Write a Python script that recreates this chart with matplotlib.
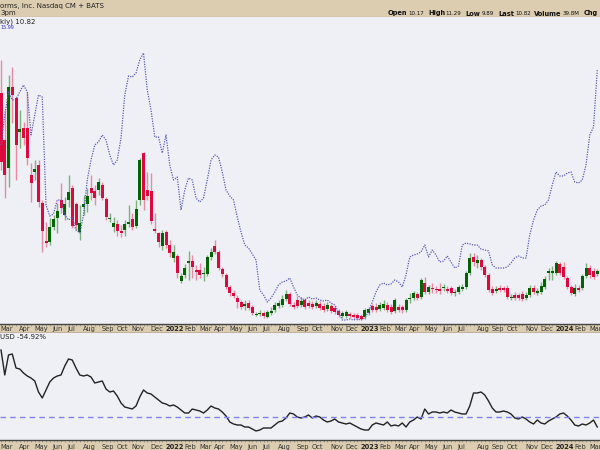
import matplotlib
matplotlib.use("Agg")
import matplotlib.pyplot as plt
import numpy as np
import pandas as pd

# weekly candles, price in $
opens = [46.4, 37.0, 31.4, 47.6, 45.4, 38.6, 39.4, 39.4, 30.0, 30.6,
         32.0, 24.4, 16.8, 16.6, 19.6, 21.4, 25.0, 22.0, 25.0, 27.4,
         24.2, 18.6, 23.6, 24.2, 27.4, 26.8, 27.0, 28.0, 25.2, 21.2,
         19.6, 20.2, 18.8, 19.0, 20.2, 21.2, 19.8, 25.0, 34.4, 27.0,
         26.8, 19.2, 18.4, 15.8, 18.6, 16.0, 13.4, 13.8, 8.8, 10.0,
         12.4, 12.8, 11.0, 11.0, 10.2, 10.2, 13.6, 15.8, 14.6, 11.2,
         10.0, 7.6, 6.4, 5.4, 4.6, 3.8, 4.4, 3.6, 2.0, 2.2,
         2.4, 1.6, 2.4, 3.0, 3.8, 4.0, 5.2, 6.2, 4.0, 5.0,
         4.0, 5.0, 4.4, 4.2, 3.8, 4.2, 3.8, 3.2, 3.8, 3.4,
         2.8, 1.8, 1.8, 2.2, 2.0, 2.0, 1.8, 1.6, 2.4, 3.8,
         3.6, 3.2, 3.4, 4.0, 3.6, 2.8, 3.6, 3.6, 3.0, 5.2,
         5.4, 6.2, 5.6, 8.4, 6.6, 7.4, 7.2, 7.2, 7.4, 7.2,
         7.4, 6.4, 6.6, 7.2, 7.6, 10.4, 13.6, 12.4, 13.0, 11.6,
         10.0, 7.2, 6.8, 7.4, 7.4, 7.4, 5.4, 6.0, 6.0, 6.2,
         5.4, 6.0, 7.4, 6.4, 6.6, 7.6, 10.4, 10.4, 10.4, 12.2,
         11.6, 9.4, 7.6, 6.2, 7.4, 7.4, 9.8, 11.4, 10.8, 10.17]
closes = [32.6, 30.0, 47.6, 46.0, 36.0, 39.2, 37.4, 33.4, 28.4, 31.2,
          24.6, 18.8, 16.4, 19.6, 21.2, 22.8, 23.4, 24.2, 26.6, 19.8,
          20.0, 20.4, 24.2, 25.8, 26.4, 25.4, 28.6, 25.4, 21.6, 21.4,
          20.4, 18.8, 18.4, 20.2, 20.6, 19.6, 23.2, 33.0, 25.0, 25.8,
          20.8, 18.8, 16.6, 18.4, 16.0, 14.4, 14.6, 10.4, 9.8, 11.4,
          12.8, 11.6, 10.6, 10.0, 10.4, 13.6, 14.6, 14.6, 11.4, 10.2,
          7.6, 6.4, 5.8, 4.6, 3.6, 4.2, 3.4, 2.4, 2.2, 2.4,
          1.8, 2.6, 2.8, 4.0, 4.4, 5.2, 6.2, 4.2, 3.6, 3.8,
          4.8, 3.6, 3.8, 3.6, 4.4, 3.4, 3.0, 4.0, 2.8, 2.6,
          2.0, 2.4, 2.6, 1.8, 1.6, 1.4, 1.2, 3.0, 3.2, 3.0,
          3.0, 4.0, 4.2, 3.0, 2.6, 5.0, 3.0, 3.0, 5.0, 5.4,
          6.4, 5.4, 9.0, 6.6, 7.6, 7.2, 7.0, 6.8, 7.6, 6.8,
          6.4, 6.6, 7.6, 7.6, 10.4, 13.4, 12.6, 13.0, 11.6, 10.0,
          7.0, 6.4, 7.2, 7.0, 7.0, 5.6, 5.6, 5.4, 5.4, 5.2,
          6.0, 7.4, 6.6, 6.8, 7.8, 9.2, 10.8, 10.8, 12.4, 10.4,
          9.6, 7.6, 6.4, 7.4, 7.0, 9.8, 11.4, 10.0, 9.6, 10.82]
highs = [53.0, 43.0, 50.0, 51.6, 45.6, 43.0, 40.6, 46.6, 32.4, 33.0,
         33.0, 25.0, 20.6, 21.4, 22.0, 24.4, 28.4, 25.6, 30.0, 28.0,
         24.6, 24.0, 26.0, 27.4, 30.0, 28.0, 29.4, 28.6, 25.6, 22.4,
         21.6, 21.0, 20.0, 21.0, 24.0, 22.4, 25.0, 33.4, 34.6, 30.6,
         30.4, 22.4, 18.6, 19.0, 19.0, 17.0, 16.0, 14.2, 10.4, 12.2,
         14.8, 14.0, 12.0, 12.4, 11.6, 14.0, 15.4, 17.0, 15.0, 11.6,
         10.4, 8.0, 7.0, 6.0, 5.0, 5.0, 5.0, 4.0, 2.6, 3.0,
         2.8, 3.0, 3.6, 4.6, 5.0, 6.0, 7.0, 6.6, 4.6, 5.8,
         5.6, 5.4, 5.0, 4.8, 5.0, 4.8, 4.4, 4.6, 4.2, 3.8,
         3.2, 2.8, 3.0, 2.6, 2.4, 2.4, 2.2, 3.4, 3.6, 4.2,
         4.4, 4.6, 5.0, 4.6, 4.2, 5.4, 4.2, 4.0, 5.4, 6.4,
         6.8, 6.6, 9.4, 9.6, 8.0, 8.4, 7.8, 8.4, 8.2, 7.8,
         7.8, 7.2, 8.0, 8.2, 10.8, 14.4, 14.4, 14.0, 13.4, 12.0,
         10.4, 7.8, 7.8, 8.0, 7.8, 8.0, 6.2, 6.6, 6.4, 6.8,
         6.6, 8.0, 8.0, 7.4, 8.6, 9.8, 11.4, 11.8, 12.8, 12.6,
         12.6, 9.8, 8.0, 8.2, 8.0, 10.2, 12.4, 12.0, 11.4, 11.29]
lows = [31.0, 25.4, 27.6, 40.4, 29.0, 35.4, 36.0, 32.0, 24.6, 29.0,
        23.6, 14.6, 15.6, 16.0, 19.0, 18.4, 22.4, 21.0, 23.6, 19.4,
        19.0, 17.0, 22.0, 22.6, 25.0, 24.0, 26.0, 25.0, 21.0, 20.6,
        18.6, 17.8, 17.6, 17.8, 19.6, 19.0, 19.4, 24.0, 23.0, 25.0,
        20.2, 18.4, 15.6, 15.0, 15.4, 13.6, 12.6, 9.4, 8.4, 9.4,
        9.0, 9.4, 9.0, 9.4, 8.8, 9.8, 13.0, 14.2, 11.0, 9.6,
        7.2, 5.8, 5.4, 3.4, 3.2, 3.0, 3.0, 2.0, 1.8, 1.8,
        1.4, 1.4, 2.0, 2.6, 3.4, 3.6, 4.8, 3.8, 3.2, 3.4,
        3.6, 3.2, 3.4, 3.2, 3.4, 3.0, 2.6, 2.8, 2.4, 2.2,
        1.6, 1.4, 1.4, 1.4, 1.2, 1.0, 1.0, 1.2, 2.0, 2.6,
        2.6, 2.8, 3.0, 2.6, 2.2, 2.4, 2.6, 2.4, 2.6, 4.4,
        5.0, 5.0, 5.2, 6.2, 6.2, 6.4, 6.4, 6.2, 6.8, 6.4,
        6.0, 5.8, 6.2, 6.8, 7.2, 10.0, 11.8, 11.4, 11.0, 9.6,
        6.6, 6.0, 6.4, 6.6, 6.6, 5.2, 5.0, 5.0, 5.0, 4.8,
        5.0, 5.6, 6.2, 6.0, 6.2, 7.2, 9.0, 9.0, 10.0, 10.0,
        9.2, 7.2, 6.0, 5.8, 6.6, 7.0, 9.4, 9.4, 9.2, 9.89]

# comparison line (dotted), same week index
relative = [36.0, 42.0, 46.6, 45.0, 45.2, 46.6, 48.0, 46.6, 38.0, 42.0,
            46.0, 45.6, 24.0, 21.8, 22.2, 25.0, 25.0, 22.0, 21.0, 21.6,
            19.0, 18.4, 22.0, 29.0, 33.0, 36.0, 36.6, 38.0, 37.0, 34.0,
            32.0, 33.0, 37.4, 46.0, 49.8, 49.6, 50.4, 53.0, 54.4, 47.0,
            43.0, 37.6, 37.6, 34.4, 38.0, 32.0, 29.0, 29.6, 23.0, 27.0,
            29.4, 29.0, 25.4, 24.6, 25.4, 29.0, 33.0, 34.0, 33.6, 30.6,
            27.0, 25.8, 25.0, 21.6, 18.6, 16.0, 15.4, 14.2, 13.0, 7.0,
            6.0, 4.6, 5.4, 6.6, 8.0, 8.6, 8.8, 9.4, 7.6, 6.0,
            5.4, 5.0, 5.6, 5.2, 5.4, 5.0, 4.8, 5.0, 4.4, 4.0,
            2.6, 1.0, 1.0, 1.2, 1.0, 1.2, 1.0, 1.4, 2.6, 4.6,
            6.6, 8.0, 8.4, 8.0, 8.2, 9.0, 8.6, 7.6, 10.0, 13.6,
            14.0, 14.2, 14.6, 16.0, 13.6, 15.0, 14.0, 12.6, 12.8, 13.8,
            12.6, 11.4, 11.8, 16.0, 16.4, 16.2, 16.0, 16.0, 15.2, 15.0,
            14.8, 12.0, 11.4, 11.4, 11.4, 11.6, 12.4, 13.4, 13.8, 13.4,
            13.4, 18.0, 21.0, 23.0, 23.8, 24.0, 25.0, 28.0, 30.6, 29.8,
            29.8, 30.4, 30.6, 28.6, 28.4, 29.0, 32.0, 38.0, 39.6, 51.0]

# lower panel: % change
perf = [368.5, 231, 341, 346.5, 269.5, 264, 242, 225.5, 214.5, 198,
        137.5, 104.5, 148.5, 192.5, 214.5, 225.5, 231, 280.5, 319, 313.5,
        269.5, 231, 225.5, 231, 220, 187, 192.5, 198, 154, 137.5,
        143, 115.5, 77, 55, 49.5, 44, 60.5, 110, 148.5, 132,
        126.5, 110, 93.5, 77, 71.5, 60.5, 66, 55, 38.5, 22,
        22, 44, 38.5, 33, 22, 38.5, 60.5, 49.5, 44, 27.5,
        5.5, -27.5, -38.5, -44, -44, -55, -55, -66, -77, -71.5,
        -60.5, -60.5, -60.5, -44, -27.5, -22, -5.5, 22, 16.5, 0,
        -5.5, 0, 11, -5.5, 5.5, 0, -16.5, -27.5, -22, -11,
        -27.5, -33, -38.5, -33, -44, -55, -66, -71.5, -71.5, -44,
        -33, -38.5, -44, -27.5, -49.5, -44, -49.5, -33, -55, -27.5,
        -16.5, 0, -11, 44, 16.5, 27.5, 27.5, 22, 27.5, 22,
        38.5, 27.5, 22, 16.5, 16.5, 60.5, 132, 132, 137.5, 121,
        88, 49.5, 27.5, 27.5, 33, 27.5, 16.5, -5.5, -11, 0,
        -11, -27.5, -38.5, -16.5, -33, -38.5, -22, -11, 0, 16.5,
        22, 5.5, -16.5, -44, -49.5, -38.5, -44, -33, -16.5, -54.92]

dates = pd.date_range("2021-03-01", periods=len(opens), freq="W-MON")

TAN = "#dccdb0"
BG = "#eff0f6"
RED = "#dc0a3c"
GREEN = "#006400"

W, H = 600, 450
fig = plt.figure(figsize=(6, 4.5), dpi=100)
fig.patch.set_facecolor(BG)


def box(top, bottom):
    return [0, 1 - bottom / H, 1, (bottom - top) / H]


x = np.arange(len(opens))
xlim = (-0.27, 159.73)

# header
axh = fig.add_axes(box(0, 17))
axh.set_facecolor(TAN)
axh.set_xticks([]); axh.set_yticks([])
for s in ["left", "right", "top"]:
    axh.spines[s].set_visible(False)
axh.spines["bottom"].set_color("#555555")

# main price panel
ax = fig.add_axes(box(17, 324))
ax.set_facecolor(BG)
o = np.array(opens); c = np.array(closes)
up = c >= o
wick_col = np.where(up, "#7fae7f", "#e88aa2")
body_col = np.where(up, GREEN, RED)
ax.vlines(x, lows, highs, colors=wick_col, linewidth=1, zorder=2)
bottoms = np.minimum(o, c)
heights = np.maximum(np.abs(c - o), 0.3)
ax.bar(x, heights, bottom=bottoms, width=0.8, color=body_col, linewidth=0, zorder=3)
ax.set_xlim(*xlim)
ax.set_ylim(0.2, 61.6)
ax.set_xticks([]); ax.set_yticks([])
for s in ax.spines.values():
    s.set_visible(False)

axr = ax.twinx()
axr.plot(x, relative, color="#5a5ac0", linestyle=(0, (1, 1)), linewidth=0.9, zorder=1)
axr.set_ylim(0.2, 61.6)
axr.set_xlim(*xlim)
axr.set_yticks([])
for s in axr.spines.values():
    s.set_visible(False)


def month_band(top, bottom):
    axb = fig.add_axes(box(top, bottom))
    axb.set_facecolor(TAN)
    axb.set_xlim(*xlim)
    axb.set_ylim(0, 1)
    axb.set_xticks([]); axb.set_yticks([])
    for s in ["left", "right"]:
        axb.spines[s].set_visible(False)
    for s in ["top", "bottom"]:
        axb.spines[s].set_color("#444444")
        axb.spines[s].set_linewidth(1)
    axb.vlines(x, 0.8, 1.0, colors="#888888", linewidth=0.5)
    prev = None
    for i, d in enumerate(dates):
        if d.month != prev:
            if d.month == 1:
                axb.text(i - 0.2, 0.4, str(d.year), fontsize=4.8, fontweight="bold",
                         ha="left", va="center", color="#222222")
            else:
                axb.text(i - 0.2, 0.4, d.strftime("%b"), fontsize=4.8,
                         ha="left", va="center", color="#333333")
            prev = d.month
    return axb


month_band(324, 333)

# lower panel
axl = fig.add_axes(box(333, 440))
axl.set_facecolor(BG)
axl.plot(x, perf, color="#222222", linewidth=1.0)
axl.axhline(0, color="#8080ee", linestyle=(0, (4, 3)), linewidth=1.0)
axl.set_xlim(*xlim)
axl.set_ylim(-126.5, 462)
axl.set_xticks([]); axl.set_yticks([])
for s in axl.spines.values():
    s.set_visible(False)

month_band(440, 452)


def ftext(px, py, s, **kw):
    fig.text(px / W, 1 - py / H, s, va="center", **kw)


ftext(0, 6, "orms, Inc. Nasdaq CM + BATS", fontsize=5, color="#222222")
ftext(0, 13.5, "3pm", fontsize=5, color="#222222")
hdr = [(388, "Open", True), (408, "10.17", False), (428, "High", True),
       (445, "11.29", False), (465, "Low", True), (482, "9.89", False),
       (498, "Last", True), (515, "10.82", False), (534, "Volume", True),
       (563, "39.8M", False), (584, "Chg", True)]
for px, s, b in hdr:
    ftext(px, 13.5, s, fontsize=4.8 if b else 4.0,
          fontweight="bold" if b else "normal", color="#111111")
ftext(0, 22, "kly) 10.82", fontsize=5, color="#222222")
ftext(0, 27.5, "15.99", fontsize=3.5, color="#3030c0")
ftext(0, 337, "USD -54.92%", fontsize=5, color="#222222")

fig.savefig("out.png", dpi=100)
